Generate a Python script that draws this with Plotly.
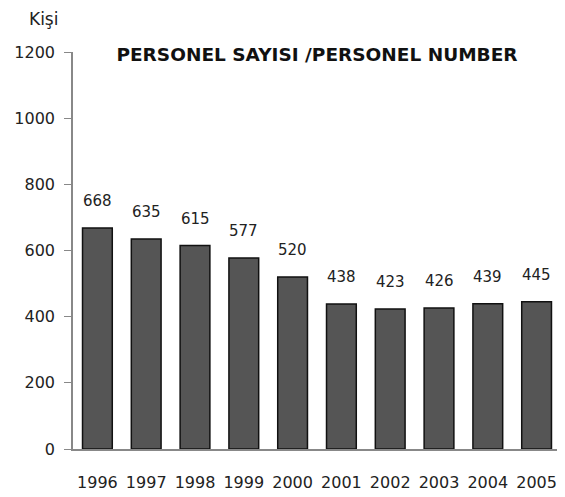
import plotly.graph_objects as go

years = ["1996", "1997", "1998", "1999", "2000", "2001", "2002", "2003", "2004", "2005"]
values = [668, 635, 615, 577, 520, 438, 423, 426, 439, 445]
y_ticks = [0, 200, 400, 600, 800, 1000, 1200]

FONT = "DejaVu Sans"

fig = go.Figure()
fig.add_trace(go.Bar(
    x=years, y=values,
    marker=dict(color="#555555", line=dict(color="#111111", width=1.5)),
    width=0.61,
))

for i, v in enumerate(values):
    fig.add_annotation(x=i, y=v, text=str(v), showarrow=False,
                       yanchor="bottom", yshift=16,
                       font=dict(family=FONT, size=15, color="#222222"))

fig.add_annotation(xref="paper", yref="paper", x=-0.027, y=1.0, yshift=21,
                   text="Kişi", showarrow=False, xanchor="right", yanchor="bottom",
                   font=dict(family=FONT, size=17, color="#222222"))

# page body adds an 8px offset, so the figure is sized to fit the window
fig.update_layout(
    width=557, height=489,
    margin=dict(l=65, r=4, t=44, b=48, autoexpand=False),
    paper_bgcolor="white", plot_bgcolor="white",
    showlegend=False,
    title=dict(text="<b>PERSONEL SAYISI /PERSONEL NUMBER</b>",
               x=0.5, xref="paper", xanchor="center",
               y=1.0, yref="paper", yanchor="top", pad=dict(t=-4),
               font=dict(family=FONT, size=18.5, color="#111111")),
    font=dict(family=FONT, color="#222222"),
)
fig.update_yaxes(range=[0, 1200], tickvals=y_ticks, showgrid=False,
                 showline=True, linecolor="#888888", linewidth=1.5,
                 ticks="outside", ticklen=7, tickcolor="#888888",
                 ticklabelstandoff=6,
                 tickfont=dict(family=FONT, size=16, color="#222222"),
                 zeroline=False)
fig.update_xaxes(type="category", range=[-0.5, len(years) - 0.5],
                 showline=True, linecolor="#888888", linewidth=1.5,
                 ticks="", showgrid=False, ticklabelstandoff=18,
                 tickfont=dict(family=FONT, size=16, color="#222222"))

fig.write_html("out.html")
